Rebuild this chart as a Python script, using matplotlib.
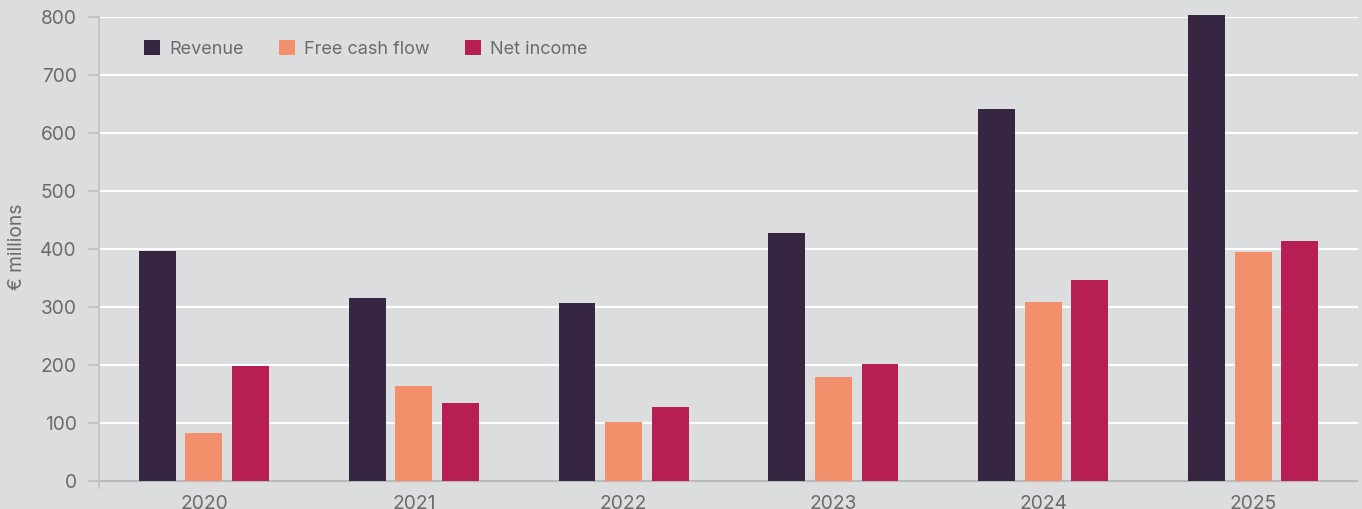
import matplotlib
matplotlib.use("Agg")
import matplotlib.pyplot as plt
import numpy as np

years = ["2020", "2021", "2022", "2023", "2024", "2025"]
revenue = [396, 315, 307, 427, 641, 803]
free_cash_flow = [83, 164, 101, 179, 308, 394]
net_income = [198, 134, 128, 201, 347, 413]
series_names = ["Revenue", "Free cash flow", "Net income"]
colors = ["#372642", "#f2906b", "#b71f54"]

plt.rcParams['font.family'] = ['Inter', 'DejaVu Sans']
bg = "#dcdddf"
fig = plt.figure(figsize=(13.62, 5.09), dpi=100, facecolor=bg)
ax = fig.add_axes([99/1362, 1-488/509, (1358-99)/1362, (488-17)/509])
ax.set_facecolor(bg)

x = np.arange(len(years))
w = 0.176
off = 0.222
for i, (vals, name, c) in enumerate(zip([revenue, free_cash_flow, net_income], series_names, colors)):
    ax.bar(x + (i-1)*off, vals, width=w, color=c, label=name, zorder=3, clip_on=False)

ax.set_ylim(-12, 800)
ax.set_xlim(-0.5, 5.5)
ax.set_yticks(range(0, 801, 100))
ax.yaxis.grid(True, color="white", linewidth=1.5, zorder=0)
ax.axhline(0, color="#b9babc", linewidth=1.6, zorder=2)
ax.set_axisbelow(True)
ax.set_xticks(x)
ax.set_xticklabels(years)
for s in ["top", "right", "bottom"]:
    ax.spines[s].set_visible(False)
ax.spines["left"].set_color("#bfc0c2")
ax.spines["left"].set_linewidth(1.2)
ax.tick_params(axis="y", length=8, width=1.2, color="#bfc0c2", labelcolor="#6b6b6b", labelsize=13.8, pad=8)
ax.tick_params(axis="x", length=0, labelcolor="#6b6b6b", labelsize=13.8, pad=5)
ax.set_ylabel("€ millions", color="#6b6b6b", fontsize=13.8)
ax.yaxis.set_label_coords(-0.058, 0.512)

leg = ax.legend(loc="upper left", ncol=3, frameon=False, bbox_to_anchor=(0.0226, 0.986),
                fontsize=13, handlelength=0.9, handleheight=0.9, columnspacing=1.95, handletextpad=0.5)
for t in leg.get_texts():
    t.set_color("#6b6b6b")

fig.savefig("out.png", dpi=100, facecolor=bg)
